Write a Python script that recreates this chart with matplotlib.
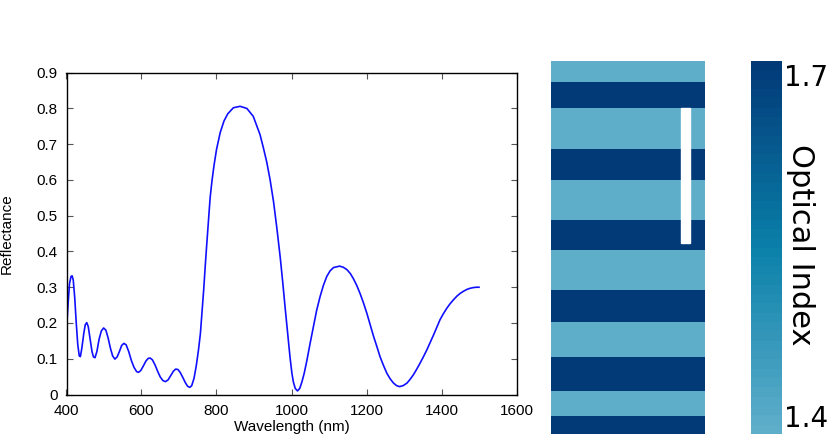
import numpy as np
import matplotlib
matplotlib.use("Agg")
import matplotlib.pyplot as plt
from matplotlib.colors import LinearSegmentedColormap, Normalize
from matplotlib.patches import Rectangle
import matplotlib.cm as cm

# reflectance spectrum
wavelength = [400, 404, 408, 412, 415, 418, 422, 426, 430, 434, 437, 441, 446, 450, 454,
              458, 463, 468, 472, 476, 481, 487, 493, 499, 505, 511, 517, 523, 529, 535,
              541, 547, 553, 559, 566, 573, 580, 587, 592, 598, 605, 612, 618, 623, 629,
              636, 643, 650, 657, 664, 671, 678, 685, 691, 697, 703, 710, 717, 723, 729,
              734, 740, 746, 752, 757, 762, 766, 770, 774, 779, 783, 788, 793, 800, 810,
              820, 830, 845, 863, 881, 898, 916, 925, 934, 943, 952, 961, 970, 977, 983,
              990, 996, 1001, 1005, 1010, 1016, 1022, 1028, 1034, 1041, 1050, 1059, 1067,
              1076, 1085, 1094, 1103, 1112, 1128, 1138, 1148, 1157, 1165, 1174, 1183, 1192,
              1201, 1210, 1219, 1228, 1236, 1245, 1254, 1263, 1272, 1280, 1288, 1298, 1308,
              1316, 1325, 1334, 1343, 1352, 1361, 1370, 1379, 1388, 1396, 1405, 1414, 1423,
              1432, 1441, 1450, 1459, 1468, 1476, 1485, 1493, 1500]
reflectance = [0.18, 0.25, 0.31, 0.33, 0.332, 0.32, 0.27, 0.20, 0.14, 0.108, 0.106, 0.13, 0.17, 0.195, 0.201,
               0.19, 0.155, 0.12, 0.105, 0.103, 0.12, 0.155, 0.178, 0.186, 0.18, 0.158, 0.13, 0.108, 0.099, 0.105,
               0.12, 0.137, 0.143, 0.139, 0.12, 0.095, 0.076, 0.064, 0.062, 0.067, 0.08, 0.094, 0.101, 0.102, 0.097,
               0.083, 0.065, 0.049, 0.039, 0.036, 0.041, 0.053, 0.065, 0.071, 0.07, 0.062, 0.048, 0.033, 0.023, 0.02,
               0.025, 0.045, 0.08, 0.125, 0.17, 0.24, 0.295, 0.36, 0.42, 0.49, 0.55, 0.598, 0.638, 0.685, 0.733,
               0.765, 0.785, 0.802, 0.806, 0.800, 0.778, 0.727, 0.69, 0.65, 0.60, 0.54, 0.465, 0.383, 0.31, 0.243,
               0.17, 0.105, 0.06, 0.035, 0.017, 0.010, 0.017, 0.036, 0.06, 0.095, 0.145, 0.192, 0.235,
               0.273, 0.305, 0.330, 0.346, 0.355, 0.359, 0.356, 0.349, 0.338, 0.324, 0.305, 0.282, 0.256,
               0.227, 0.195, 0.162, 0.133, 0.106, 0.082, 0.060, 0.044, 0.032, 0.025, 0.022, 0.025, 0.032,
               0.042, 0.055, 0.071, 0.088, 0.106, 0.125, 0.146, 0.167, 0.189, 0.209, 0.226, 0.241, 0.254,
               0.265, 0.275, 0.283, 0.289, 0.294, 0.297, 0.299, 0.3, 0.3]

# layer stack, top to bottom
layer_thickness = [21.3, 26, 40.7, 31.3, 39.7, 30.3, 39.4, 32, 35, 34.6, 24.4, 18.3]
layer_index = [1.4, 1.7, 1.4, 1.7, 1.4, 1.7, 1.4, 1.7, 1.4, 1.7, 1.4, 1.7]
n_min, n_max = 1.4, 1.7

# white marker in the stack
marker_x, marker_w = 0.845, 0.057
marker_top, marker_bottom = 47, 182

cmap = LinearSegmentedColormap.from_list("idx", ["#5eaeca", "#0a80a9", "#023a78"], N=40)
norm = Normalize(n_min, n_max)

plt.rcParams['font.family'] = ['Liberation Sans', 'DejaVu Sans']
fig = plt.figure(figsize=(8.31, 4.42), dpi=100)

# spectrum
ax = fig.add_axes([66.5/831, 47.5/442, 450/831, 321.8/442])
ax.plot(wavelength, reflectance, color='#1010ff', lw=1.2)
ax.set_xlim(400, 1600)
ax.set_ylim(0, 0.9)
ax.set_xticks(np.arange(400, 1601, 200))
ax.set_yticks(np.arange(0, 0.91, 0.1))
ax.set_yticklabels(['0'] + ['%.1f' % v for v in np.arange(0.1, 0.91, 0.1)])
ax.tick_params(direction='in', top=True, right=True, length=4, width=0.8,
               color='#555555', labelsize=11, pad=6.5)
for s in ax.spines.values():
    s.set_linewidth(1.0)
ax.set_xlabel("Wavelength (nm)", fontsize=11, labelpad=2)
ax.set_ylabel("Reflectance", fontsize=11)
ax.yaxis.set_label_coords(-0.117, 0.5)

# layer stack
ax2 = fig.add_axes([551/831, 8/442, 154/831, 373/442])
bottom = 0
for t, n in zip(layer_thickness, layer_index):
    ax2.bar(0.5, t, width=1.0, bottom=bottom, color=cmap(norm(n)), edgecolor='none')
    bottom += t
ax2.add_patch(Rectangle((marker_x, marker_top), marker_w, marker_bottom - marker_top,
                        color='white', zorder=3))
ax2.set_xlim(0, 1)
ax2.set_ylim(sum(layer_thickness), 0)
ax2.axis('off')

# colorbar
cax = fig.add_axes([751/831, 8/442, 31/831, 373/442])
cb = fig.colorbar(cm.ScalarMappable(norm=norm, cmap=cmap), cax=cax)
cb.outline.set_visible(False)
cb.set_ticks([])
cax.text(1.05, 0.993, "1.7", transform=cax.transAxes, ha='left', va='top',
         fontsize=20, family='DejaVu Sans')
cax.text(1.05, 0.003, "1.4", transform=cax.transAxes, ha='left', va='bottom',
         fontsize=20, family='DejaVu Sans')
cax.text(1.6, 0.507, "Optical Index", transform=cax.transAxes, ha='center', va='center',
         rotation=270, fontsize=22, family='DejaVu Sans')

fig.savefig("out.png", dpi=100)
